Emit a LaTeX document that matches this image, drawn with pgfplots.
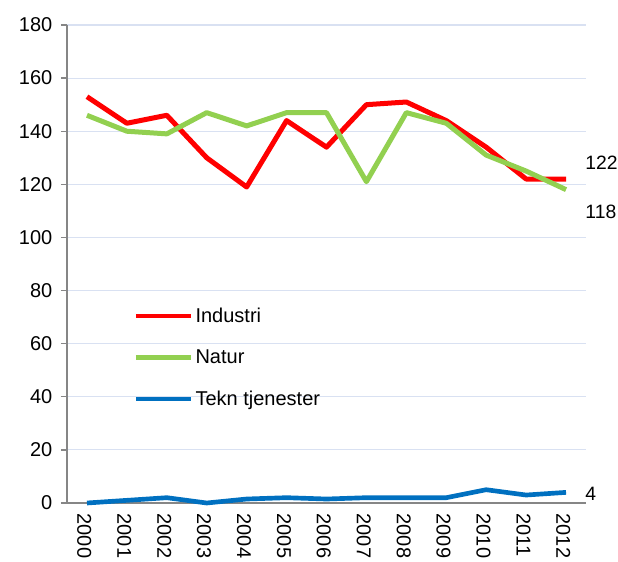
\documentclass[border=0pt]{standalone}
\usepackage{fontspec}
\setmainfont{Liberation Sans}
\usepackage{pgfplots}
\pgfplotsset{compat=1.18}
\definecolor{ind}{HTML}{FF0000}
\definecolor{nat}{HTML}{92D050}
\definecolor{tek}{HTML}{0070C0}
\definecolor{axgray}{HTML}{868686}
\definecolor{gridc}{HTML}{D9E1F2}
\begin{document}
\begin{tikzpicture}
\begin{axis}[
  scale only axis,
  width=389.25pt, height=358.5pt,
  xmin=-0.5, xmax=12.5,
  ymin=0, ymax=180,
  ytick={0,20,...,180},
  xtick={0,...,12},
  xticklabels={2000,2001,2002,2003,2004,2005,2006,2007,2008,2009,2010,2011,2012},
  axis x line*=bottom,
  axis y line*=left,
  axis line style={axgray, line width=1pt},
  x axis line style={-},
  y axis line style={-},
  ymajorgrids,
  grid style={gridc, line width=0.8pt},
  major x tick style={draw=none},
  major y tick style={axgray, line width=1pt},
  tick align=outside,
  major tick length=4.5pt,
  /pgf/number format/assume math mode=true,
  tick label style={font=\fontsize{15}{17}\selectfont, black},
  xticklabel style={rotate=-90, anchor=west, yshift=-2pt},
  yticklabel style={xshift=-3pt},
  legend style={draw=none, fill=none, at={(0.12,0.42)}, anchor=north west,
    font=\fontsize{15}{17}\selectfont, row sep=15pt, legend cell align=left},
  legend image code/.code={\draw[#1, line width=3.5pt] (0pt,0pt) -- (41pt,0pt);},
  clip=false,
]
\addplot[ind, line width=3.75pt, line join=round] coordinates {
(0,153) (1,143) (2,146) (3,130) (4,119) (5,144) (6,134) (7,150) (8,151) (9,144) (10,134) (11,122) (12,122)};
\addlegendentry{Industri}
\addplot[nat, line width=3.75pt, line join=round] coordinates {
(0,146) (1,140) (2,139) (3,147) (4,142) (5,147) (6,147) (7,121) (8,147) (9,143) (10,131) (11,125) (12,118)};
\addlegendentry{Natur}
\addplot[tek, line width=3.5pt, line join=round] coordinates {
(0,0) (1,1) (2,2) (3,0) (4,1.5) (5,2) (6,1.5) (7,2) (8,2) (9,2) (10,5) (11,3) (12,4)};
\addlegendentry{Tekn tjenester}
\node[anchor=west, inner sep=0pt, font=\fontsize{14.5}{17}\selectfont] at (axis cs:12.48,128) {122};
\node[anchor=west, inner sep=0pt, font=\fontsize{14.5}{17}\selectfont] at (axis cs:12.48,109.5) {118};
\node[anchor=west, inner sep=0pt, font=\fontsize{14.5}{17}\selectfont] at (axis cs:12.48,3.5) {4};
\coordinate (sw) at (rel axis cs:0,0);
\coordinate (ne) at (rel axis cs:1,1);
\end{axis}
\pgfresetboundingbox
\path[use as bounding box] ([shift={(-50.25pt,-43.5pt)}]sw) rectangle ([shift={(24pt,18.75pt)}]ne);
\end{tikzpicture}
\end{document}
